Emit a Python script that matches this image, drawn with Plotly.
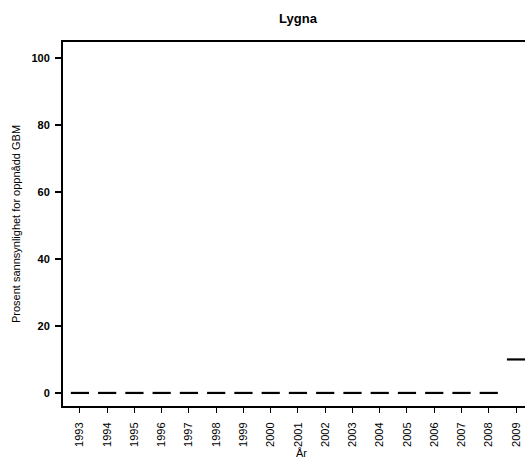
import plotly.graph_objects as go

years = list(range(1993, 2010))
values = [0, 0, 0, 0, 0, 0, 0, 0, 0, 0, 0, 0, 0, 0, 0, 0, 10]
y_ticks = [0, 20, 40, 60, 80, 100]

fig = go.Figure()
fig.add_trace(go.Scatter(
    x=years, y=values, mode="markers",
    marker=dict(symbol="line-ew", size=13, line=dict(width=2.2, color="black")),
    showlegend=False, cliponaxis=False, hoverinfo="skip",
))

fig.update_layout(
    width=525, height=461,
    margin=dict(l=63, r=0, t=42, b=55, autoexpand=False),
    plot_bgcolor="white", paper_bgcolor="white",
    font=dict(family="Liberation Sans, Arial", color="black", size=11),
    title=dict(text="<b>Lygna</b>", x=298 / 525, xanchor="center", y=0.961, yanchor="middle",
               font=dict(size=13, color="black")),
    annotations=[dict(text="År", xref="paper", yref="paper", x=(301 - 63) / 462, y=0,
                      yshift=-47, xanchor="center", yanchor="middle",
                      showarrow=False, font=dict(size=11))],
)
fig.update_xaxes(
    range=[1992.38, 2009.33], tickvals=years, ticktext=[str(y) for y in years],
    tickangle=-90, ticks="outside", ticklen=5, tickwidth=1, tickcolor="black",
    showline=True, linewidth=2, linecolor="black", mirror=True,
    showgrid=False, zeroline=False, automargin=False, ticklabelstandoff=5,
    tickfont=dict(size=11),
)
fig.update_yaxes(
    range=[-3.9, 104.8], tickvals=y_ticks, ticks="outside", ticklen=6, tickwidth=1.5,
    tickcolor="black", showline=True, linewidth=2, linecolor="black",
    showgrid=False, zeroline=False, automargin=False, ticklabelstandoff=3,
    title=dict(text="Prosent sannsynlighet for oppnådd GBM", font=dict(size=11), standoff=9),
    tickfont=dict(size=11, family="Liberation Sans, Arial", weight="bold"),
)
fig.write_html(
    "out.html",
    config={"displayModeBar": False},
    post_script="document.body.style.margin='0';document.body.style.overflow='hidden';",
)
